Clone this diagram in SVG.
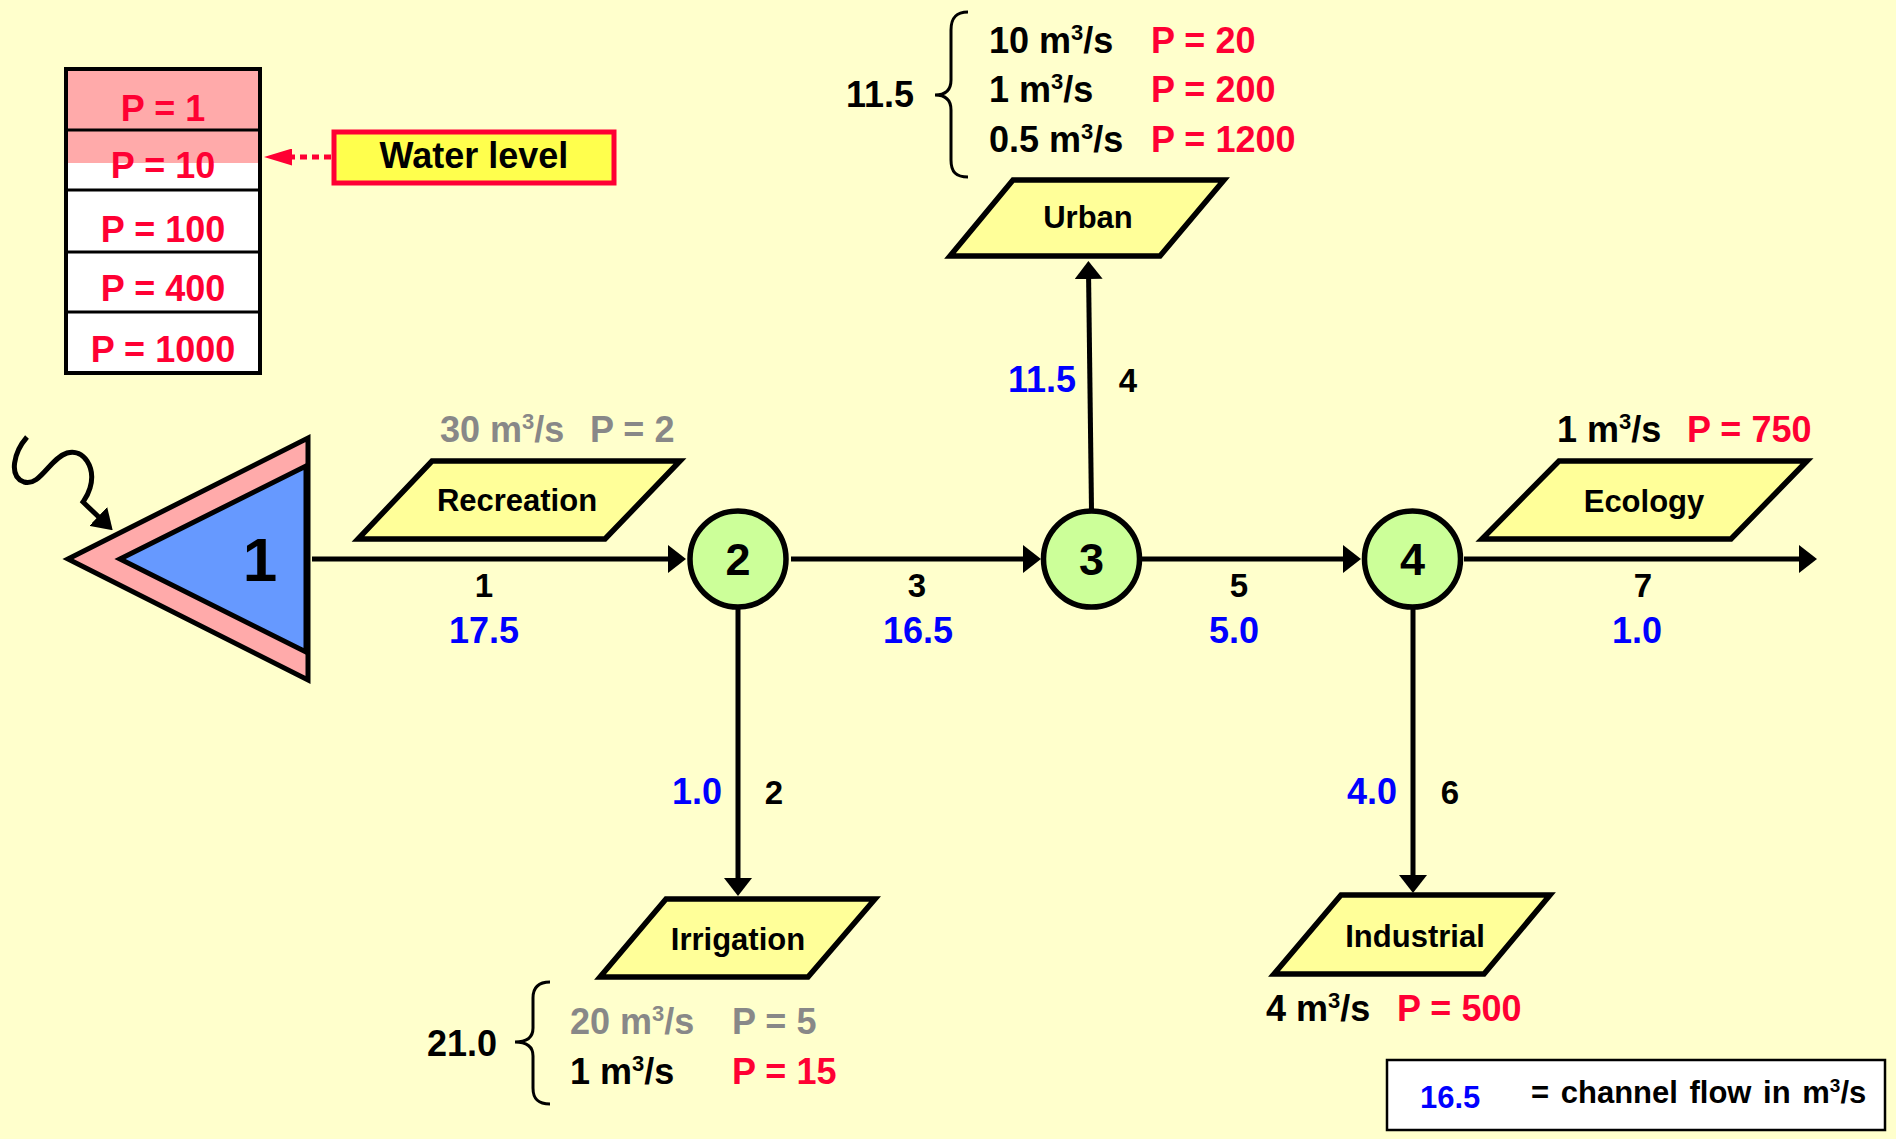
<svg xmlns="http://www.w3.org/2000/svg" width="1896" height="1139" viewBox="0 0 1896 1139">
<defs>
<style>
text{font-family:"Liberation Sans",Arial,sans-serif;font-weight:bold}
.v{font-size:36px}
.lbl{font-size:33px;fill:#000;text-anchor:middle}
.flow{font-size:36px;fill:#0000FF}
.red{fill:#FF0033}
.gray{fill:#888888}
.blk{fill:#000}
.sup{font-size:22px}
.para{fill:#FFFF99;stroke:#000;stroke-width:5.5;stroke-linejoin:miter}
.ptxt{font-size:31px;fill:#000;text-anchor:middle}
.node{fill:#CCFF99;stroke:#000;stroke-width:5.5}
.ntxt{font-size:45px;fill:#000;text-anchor:middle}
.conn{fill:none;stroke:#000;stroke-width:5}
.brace{fill:none;stroke:#000;stroke-width:3}
</style>
<marker id="ah" viewBox="0 0 18 28" refX="9" refY="14" markerWidth="18" markerHeight="28" markerUnits="userSpaceOnUse" orient="auto">
<path d="M0,0 L18,14 L0,28 z" fill="#000"/>
</marker>
<marker id="ahs" viewBox="0 0 20 26" refX="8" refY="13" markerWidth="20" markerHeight="26" markerUnits="userSpaceOnUse" orient="auto">
<path d="M0,0 L20,13 L0,26 z" fill="#000"/>
</marker>
<marker id="ahr" viewBox="0 0 28 17" refX="4" refY="8.5" markerWidth="28" markerHeight="17" markerUnits="userSpaceOnUse" orient="auto">
<path d="M0,0 L28,8.5 L0,17 z" fill="#FF0033"/>
</marker>
</defs>
<rect x="0" y="0" width="1896" height="1139" fill="#FFFFCC"/>

<!-- Priority level box -->
<g id="levels">
<rect x="66" y="69" width="194" height="304" fill="#FFFFFF"/>
<rect x="66" y="69" width="194" height="94" fill="#FFAAAA"/>
<line x1="66" y1="130" x2="260" y2="130" stroke="#000" stroke-width="3"/>
<line x1="66" y1="190" x2="260" y2="190" stroke="#000" stroke-width="3"/>
<line x1="66" y1="252" x2="260" y2="252" stroke="#000" stroke-width="3"/>
<line x1="66" y1="312" x2="260" y2="312" stroke="#000" stroke-width="3"/>
<rect x="66" y="69" width="194" height="304" fill="none" stroke="#000" stroke-width="4"/>
<text class="v red" x="163" y="121" text-anchor="middle">P = 1</text>
<text class="v red" x="163" y="178" text-anchor="middle">P = 10</text>
<text class="v red" x="163" y="242" text-anchor="middle">P = 100</text>
<text class="v red" x="163" y="301" text-anchor="middle">P = 400</text>
<text class="v red" x="163" y="362" text-anchor="middle">P = 1000</text>
</g>

<g id="waterlevel">
<rect x="334" y="132" width="280" height="51" fill="#FFFF4D" stroke="#FF0033" stroke-width="5"/>
<text class="v blk" x="474" y="168" text-anchor="middle">Water level</text>
</g>

<!-- Connectors -->
<g id="connectors">
<line x1="331" y1="157" x2="288" y2="157" stroke="#FF0033" stroke-width="5" stroke-dasharray="7 5" marker-end="url(#ahr)"/>
<path class="brace" style="stroke-width:5" d="M27,437 C14,452 8,476 24,482 C40,487 50,458 67,453 C84,448 96,468 90,488 C88,495 85,499 83,502 L104,522" marker-end="url(#ahs)"/>
<line class="conn" x1="312" y1="559" x2="677" y2="559" marker-end="url(#ah)"/>
<line class="conn" x1="791" y1="559" x2="1032" y2="559" marker-end="url(#ah)"/>
<line class="conn" x1="1142" y1="559" x2="1352" y2="559" marker-end="url(#ah)"/>
<line class="conn" x1="1464" y1="559" x2="1808" y2="559" marker-end="url(#ah)"/>
<line class="conn" x1="738" y1="609" x2="738" y2="887" marker-end="url(#ah)"/>
<line class="conn" x1="1413" y1="609" x2="1413" y2="884" marker-end="url(#ah)"/>
<line class="conn" x1="1091.5" y1="510" x2="1088.5" y2="270" marker-end="url(#ah)"/>
</g>

<!-- Connector labels -->
<g id="labels">
<text class="lbl" x="484" y="597">1</text>
<text class="flow" x="484" y="643" text-anchor="middle">17.5</text>
<text class="lbl" x="917" y="597">3</text>
<text class="flow" x="918" y="643" text-anchor="middle">16.5</text>
<text class="lbl" x="1239" y="597">5</text>
<text class="flow" x="1234" y="643" text-anchor="middle">5.0</text>
<text class="lbl" x="1643" y="597">7</text>
<text class="flow" x="1637" y="643" text-anchor="middle">1.0</text>
<text class="flow" x="722" y="804" text-anchor="end">1.0</text>
<text class="lbl" x="774" y="804">2</text>
<text class="flow" x="1076" y="392" text-anchor="end">11.5</text>
<text class="lbl" x="1128" y="392">4</text>
<text class="flow" x="1397" y="804" text-anchor="end">4.0</text>
<text class="lbl" x="1450" y="804">6</text>
</g>

<!-- Reservoir node 1 -->
<g id="node1">
<polygon points="68,559 308,438 308,680" fill="#FFAAAA" stroke="#000" stroke-width="5" stroke-linejoin="miter"/>
<polygon points="120,559 306,466 306,652" fill="#6699FF" stroke="#000" stroke-width="5" stroke-linejoin="miter"/>
<text x="260" y="581" font-size="62" fill="#000" text-anchor="middle">1</text>
</g>

<g id="node2">
<circle class="node" cx="738" cy="559" r="48"/>
<text class="ntxt" x="738" y="575">2</text>
</g>
<g id="node3">
<circle class="node" cx="1091.5" cy="559" r="48"/>
<text class="ntxt" x="1091.5" y="575">3</text>
</g>
<g id="node4">
<circle class="node" cx="1412.5" cy="559" r="48"/>
<text class="ntxt" x="1412.5" y="575">4</text>
</g>

<g id="recreation">
<polygon class="para" points="432,461 680,461 605,539 358,539"/>
<text class="ptxt" x="517" y="511">Recreation</text>
<text class="v gray" x="440" y="442">30 m<tspan class="sup" dy="-13">3</tspan><tspan dy="13">/s</tspan></text>
<text class="v gray" x="590" y="442">P = 2</text>
</g>

<g id="urban">
<polygon class="para" points="1013,180 1224,180 1160,256 950,256"/>
<text class="ptxt" x="1088" y="228">Urban</text>
<path class="brace" d="M968,12 C956,12 951,18 951,30 L951,80 C951,90 946,95 935,95 C946,95 951,100 951,110 L951,160 C951,172 956,177 968,177"/>
<text class="v blk" x="846" y="107">11.5</text>
<text class="v blk" x="989" y="53">10 m<tspan class="sup" dy="-13">3</tspan><tspan dy="13">/s</tspan></text>
<text class="v red" x="1151" y="53">P = 20</text>
<text class="v blk" x="989" y="102">1 m<tspan class="sup" dy="-13">3</tspan><tspan dy="13">/s</tspan></text>
<text class="v red" x="1151" y="102">P = 200</text>
<text class="v blk" x="989" y="152">0.5 m<tspan class="sup" dy="-13">3</tspan><tspan dy="13">/s</tspan></text>
<text class="v red" x="1151" y="152">P = 1200</text>
</g>

<g id="ecology">
<polygon class="para" points="1559,461 1807,461 1731,539 1482,539"/>
<text class="ptxt" x="1644" y="512">Ecology</text>
<text class="v blk" x="1557" y="442">1 m<tspan class="sup" dy="-13">3</tspan><tspan dy="13">/s</tspan></text>
<text class="v red" x="1687" y="442">P = 750</text>
</g>

<g id="irrigation">
<polygon class="para" points="666,899 875,899 808,977 600,977"/>
<text class="ptxt" x="738" y="950">Irrigation</text>
<path class="brace" d="M550,982 C538,982 533,988 533,998 L533,1028 C533,1037 527,1042 515,1042 C527,1042 533,1047 533,1056 L533,1088 C533,1099 538,1104 550,1104"/>
<text class="v blk" x="427" y="1056">21.0</text>
<text class="v gray" x="570" y="1034">20 m<tspan class="sup" dy="-13">3</tspan><tspan dy="13">/s</tspan></text>
<text class="v gray" x="732" y="1034">P = 5</text>
<text class="v blk" x="570" y="1084">1 m<tspan class="sup" dy="-13">3</tspan><tspan dy="13">/s</tspan></text>
<text class="v red" x="732" y="1084">P = 15</text>
</g>

<g id="industrial">
<polygon class="para" points="1341,895 1550,895 1484,974 1274,974"/>
<text class="ptxt" x="1415" y="947">Industrial</text>
<text class="v blk" x="1266" y="1021">4 m<tspan class="sup" dy="-13">3</tspan><tspan dy="13">/s</tspan></text>
<text class="v red" x="1397" y="1021">P = 500</text>
</g>

<g id="legend">
<rect x="1387" y="1060" width="498" height="70" fill="#FFFFFF" stroke="#000" stroke-width="2.5"/>
<text x="1420" y="1108" font-size="31" fill="#0000FF">16.5</text>
<text x="1531" y="1103" font-size="31" fill="#000" word-spacing="3">= channel flow in m<tspan font-size="19" dy="-11">3</tspan><tspan dy="11">/s</tspan></text>
</g>
</svg>
